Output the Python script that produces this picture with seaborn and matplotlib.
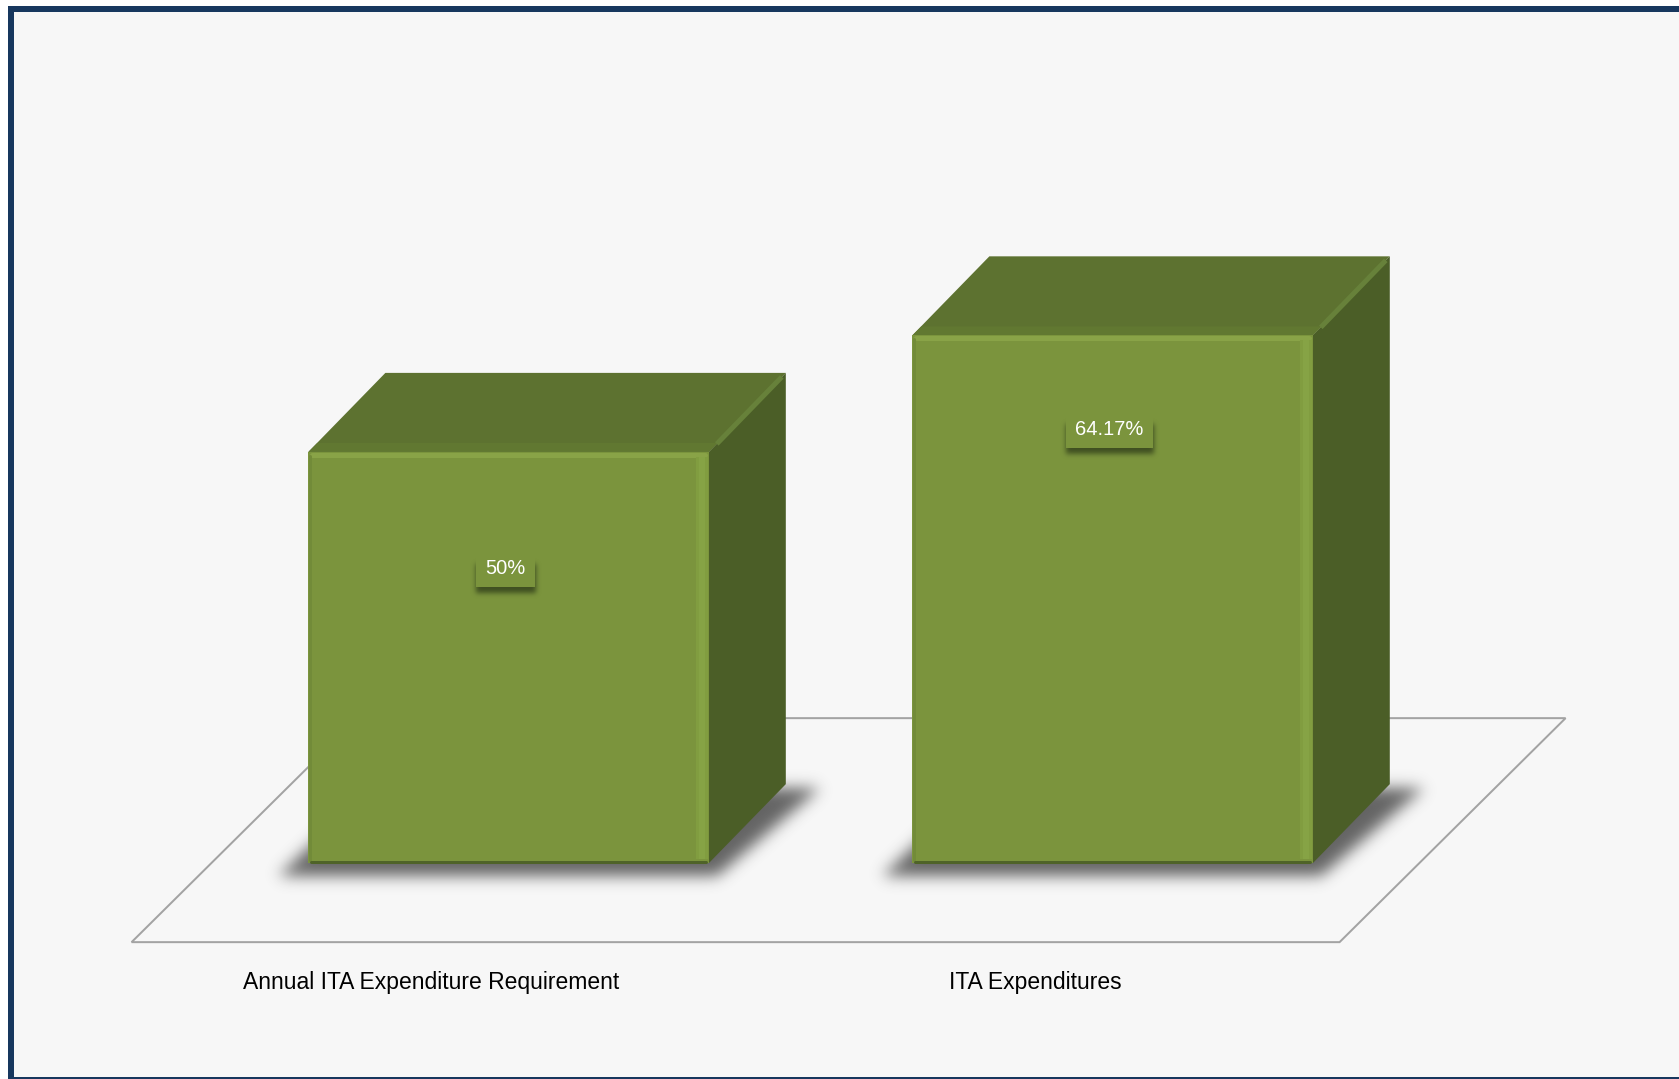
import numpy as np
import pandas as pd
import matplotlib
matplotlib.use("Agg")
import matplotlib.pyplot as plt
import seaborn as sns
from matplotlib.patches import Polygon, Rectangle
from matplotlib.lines import Line2D
from matplotlib.path import Path
from matplotlib.transforms import offset_copy

# ---- data -------------------------------------------------------------
categories = ["Annual ITA Expenditure Requirement", "ITA Expenditures"]
values = [50.0, 64.17]
value_labels = ["50%", "64.17%"]

# ---- style ------------------------------------------------------------
FRONT = "#7b943d"
TOP = "#5d7230"
SIDE = "#4b5e27"
BEVEL = "#67813a"
HILITE = "#89a347"
EDGE_DARK = "#4f6328"
FLOOR = "#a3a3a3"
BG = "#f7f7f7"
NAVY = "#17375e"

DEPTH_PX = (77, 79)            # oblique depth of each box, in pixels
FLOOR_FRONT_PX = (-75, -79)    # floor front edge, relative to the box baseline
FLOOR_BACK_PX = (151, 145)     # floor back edge, relative to the box baseline
LABEL_DROP_PX = [117, 94]      # value tags sit this far under each box top
CAT_LABEL_DROP_PX = 119        # category labels below the baseline

sns.set_theme(style="white")
plt.rcParams["font.family"] = ["Liberation Sans", "DejaVu Sans"]

W, H, DPI = 1679, 1079, 100
PT = 72 / DPI  # points per pixel
fig = plt.figure(figsize=(W / DPI, H / DPI), dpi=DPI, facecolor="white")

# panel background and frame
fig.add_artist(Rectangle((8 / W, 0), 1, 1 - 6 / H, transform=fig.transFigure,
                         facecolor=BG, edgecolor="none", zorder=-10))
fig.add_artist(Line2D([10.5 / W, 10.5 / W], [1 - 9 / H, 0], transform=fig.transFigure,
                      color=NAVY, lw=6 * PT, solid_capstyle="butt"))
fig.add_artist(Line2D([8 / W, 1], [1 - 9 / H, 1 - 9 / H], transform=fig.transFigure,
                      color=NAVY, lw=6 * PT, solid_capstyle="butt"))
fig.add_artist(Line2D([8 / W, 1], [1 / H, 1 / H], transform=fig.transFigure,
                      color=NAVY, lw=2 * PT, solid_capstyle="butt"))

ax = fig.add_axes([0.0511, 0.00185, 0.9353, 0.9605])
ax.patch.set_alpha(0)

df = pd.DataFrame({"category": categories, "value": values})
sns.barplot(data=df, x="category", y="value", color=FRONT, saturation=1,
            width=0.663, ax=ax, zorder=4, linewidth=0)
bars = list(ax.containers[0])
XLIM, YLIM = (-0.7, 1.9), (-26, 100)
ax.set_xlim(*XLIM)
ax.set_ylim(*YLIM)
ax.axis("off")

# pixel -> data scale
o = ax.transData.transform((0, 0))
sx = ax.transData.transform((1, 0))[0] - o[0]
sy = ax.transData.transform((0, 1))[1] - o[1]
ddx, ddy = DEPTH_PX[0] / sx, DEPTH_PX[1] / sy
px, py = 1 / sx, 1 / sy
inv = ax.transData.inverted()

n = len(categories)

# floor outline
fx0, fy0 = FLOOR_FRONT_PX[0] / sx, FLOOR_FRONT_PX[1] / sy
fx1, fy1 = FLOOR_BACK_PX[0] / sx, FLOOR_BACK_PX[1] / sy
floor = [(-0.5 + fx0, fy0), (n - 0.5 + fx0, fy0),
         (n - 0.5 + fx1, fy1), (-0.5 + fx1, fy1)]
ax.add_patch(Polygon(floor, closed=True, facecolor="none", edgecolor=FLOOR,
                     lw=2 * PT, zorder=1, joinstyle="miter"))


def gaussian_blur(a, sigma):
    r = int(3 * sigma)
    t = np.arange(-r, r + 1)
    k = np.exp(-0.5 * (t / sigma) ** 2)
    k /= k.sum()
    a = np.apply_along_axis(lambda m: np.convolve(m, k, mode="same"), 0, a)
    a = np.apply_along_axis(lambda m: np.convolve(m, k, mode="same"), 1, a)
    return a


def soft_shadow(poly_px, sigma, rgb, alpha, zorder, margin=40):
    """Blurred shadow of a polygon given in display pixels."""
    poly_px = np.asarray(poly_px)
    xmin, xmax = int(poly_px[:, 0].min() - margin), int(poly_px[:, 0].max() + margin)
    ymin, ymax = int(poly_px[:, 1].min() - margin), int(poly_px[:, 1].max() + margin)
    GX, GY = np.meshgrid(np.arange(xmin, xmax) + 0.5, np.arange(ymin, ymax) + 0.5)
    inside = Path(poly_px).contains_points(np.c_[GX.ravel(), GY.ravel()])
    mask = gaussian_blur(inside.reshape(GX.shape).astype(float), sigma)
    rgba = np.zeros(mask.shape + (4,))
    rgba[..., :3] = rgb
    rgba[..., 3] = np.clip(alpha * mask, 0, 1)
    ex0, ey0 = inv.transform((xmin, ymin))
    ex1, ey1 = inv.transform((xmax, ymax))
    ax.imshow(rgba, extent=(ex0, ex1, ey0, ey1), origin="lower",
              interpolation="bilinear", zorder=zorder, aspect="auto")


for p in bars:
    x0, w, h = p.get_x(), p.get_width(), p.get_height()

    # soft cast shadow on the floor
    fl = ax.transData.transform((x0, 0))
    fr = ax.transData.transform((x0 + w, 0))
    soft_shadow([(fl[0] - 30, fl[1] - 13),
                 (fr[0] + 8, fr[1] - 13),
                 (fr[0] + DEPTH_PX[0] + 34, fr[1] + DEPTH_PX[1] - 4),
                 (fl[0] + DEPTH_PX[0] - 10, fl[1] + DEPTH_PX[1])],
                sigma=7.5, rgb=(0.25, 0.25, 0.25), alpha=0.8, zorder=2)

    # top and side faces of the box
    top = [(x0, h), (x0 + w, h), (x0 + w + ddx, h + ddy), (x0 + ddx, h + ddy)]
    side = [(x0 + w, 0), (x0 + w, h), (x0 + w + ddx, h + ddy), (x0 + w + ddx, ddy)]
    ax.add_patch(Polygon(top, closed=True, facecolor=TOP, edgecolor="none", zorder=3))
    ax.add_patch(Polygon(side, closed=True, facecolor=SIDE, edgecolor="none", zorder=3))
    # slightly lighter band where the top face meets the front face
    strip = [(x0, h), (x0 + w, h), (x0 + w + 9 * px, h + 9 * py), (x0 + 9 * px, h + 9 * py)]
    ax.add_patch(Polygon(strip, closed=True, facecolor="#617831", edgecolor="none", zorder=3.2))
    # bevel between top and side faces
    ax.add_line(Line2D([x0 + w + 8 * px, x0 + w + ddx - 4 * px],
                       [h + 8 * py, h + ddy - 4 * py], color=BEVEL,
                       lw=5 * PT, zorder=3.5, solid_capstyle="butt"))

    # bevel highlights on the front face
    ax.add_line(Line2D([x0 + 4 * px, x0 + w - 4 * px], [h - 3 * py, h - 3 * py],
                       color=HILITE, lw=5 * PT, zorder=5, solid_capstyle="round"))
    ax.add_line(Line2D([x0 + w - 7 * px, x0 + w - 7 * px], [4 * py, h - 5 * py],
                       color="#819d40", lw=12 * PT, zorder=5, solid_capstyle="butt"))
    ax.add_line(Line2D([x0 + w - 7 * px, x0 + w - 7 * px], [4 * py, h - 5 * py],
                       color="#86a345", lw=6 * PT, zorder=5, solid_capstyle="butt"))
    ax.add_line(Line2D([x0 + 2 * px, x0 + 2 * px], [3 * py, h - 4 * py],
                       color="#728b39", lw=3 * PT, zorder=5))
    ax.add_line(Line2D([x0 + 3 * px, x0 + w - 3 * px], [1.5 * py, 1.5 * py],
                       color=EDGE_DARK, lw=3 * PT, zorder=5, solid_capstyle="round"))

# value tags
tags = []
for i, (v, lab) in enumerate(zip(values, value_labels)):
    tr = offset_copy(ax.transData, fig=fig, x=-3, y=-LABEL_DROP_PX[i], units="dots")
    t = ax.text(i, v, lab, transform=tr, ha="center", va="center",
                color="white", fontsize=14.5, zorder=7,
                bbox=dict(boxstyle="square,pad=0.45", facecolor=FRONT, edgecolor="none"))
    tags.append(t)

# category labels under the front edge of the floor
for i, cat in enumerate(categories):
    ax.text(i - ddx, -CAT_LABEL_DROP_PX / sy, cat,
            ha="center", va="center", fontsize=16.5, color="black", zorder=6)

# drop shadows beneath the value tags (needs the laid-out tag boxes)
ax.set_xlim(*XLIM)
ax.set_ylim(*YLIM)
fig.canvas.draw()
for t in tags:
    bb = t.get_bbox_patch().get_window_extent()
    soft_shadow([(bb.x0, bb.y0 - 6), (bb.x1 + 1, bb.y0 - 6),
                 (bb.x1 + 1, bb.y1 - 14), (bb.x0, bb.y1 - 14)],
                sigma=2.5, rgb=(0.25, 0.31, 0.13), alpha=1.0, zorder=6.9, margin=15)

# imshow resets limits, so pin them again
ax.set_xlim(*XLIM)
ax.set_ylim(*YLIM)

fig.savefig("out.png", dpi=DPI, facecolor=fig.get_facecolor())
